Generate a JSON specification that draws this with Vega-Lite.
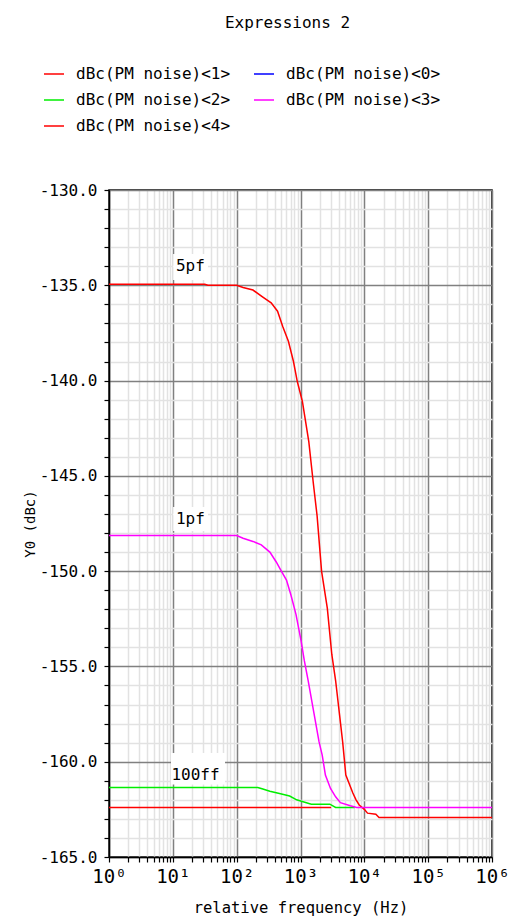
{
  "$schema": "https://vega.github.io/schema/vega-lite/v6.json",
  "width": 383,
  "height": 667,
  "autosize": {"type": "none"},
  "padding": {"left": 109, "top": 190, "right": 20, "bottom": 62},
  "background": "white",
  "title": {
    "text": "Expressions 2",
    "font": "DejaVu Sans Mono",
    "fontSize": 16,
    "fontWeight": "normal",
    "color": "#000000",
    "anchor": "middle",
    "dx": -13,
    "offset": 32
  },
  "config": {
    "view": {"stroke": "#000000", "strokeWidth": 1.5},
    "axis": {
      "labelFont": "DejaVu Sans Mono",
      "titleFont": "DejaVu Sans Mono",
      "titleFontWeight": "normal",
      "labelColor": "#000000",
      "titleColor": "#000000",
      "domainColor": "#000000",
      "domainWidth": 1.5,
      "tickColor": "#000000",
      "tickWidth": 1.2,
      "gridWidth": 1.5
    },
    "legend": {
      "orient": "none",
      "legendX": -66,
      "legendY": -127,
      "columns": 2,
      "padding": 0,
      "symbolType": "stroke",
      "symbolSize": 400,
      "symbolStrokeWidth": 1.5,
      "labelFont": "DejaVu Sans Mono",
      "labelFontSize": 16,
      "labelColor": "#000000",
      "labelOffset": 11,
      "rowPadding": 7,
      "columnPadding": 20
    }
  },
  "resolve": {"axis": {"x": "independent", "y": "independent"}},
  "layer": [
    {
      "data": {
        "values": [
          {"series": "dBc(PM noise)<1>", "f": 1, "y": -134.95},
          {"series": "dBc(PM noise)<1>", "f": 31.6, "y": -134.95},
          {"series": "dBc(PM noise)<1>", "f": 35.5, "y": -135.0},
          {"series": "dBc(PM noise)<1>", "f": 100, "y": -135.0},
          {"series": "dBc(PM noise)<1>", "f": 126, "y": -135.12},
          {"series": "dBc(PM noise)<1>", "f": 180, "y": -135.25},
          {"series": "dBc(PM noise)<1>", "f": 257, "y": -135.62},
          {"series": "dBc(PM noise)<1>", "f": 347, "y": -135.92},
          {"series": "dBc(PM noise)<1>", "f": 437, "y": -136.36},
          {"series": "dBc(PM noise)<1>", "f": 525, "y": -137.15},
          {"series": "dBc(PM noise)<1>", "f": 646, "y": -137.94},
          {"series": "dBc(PM noise)<1>", "f": 776, "y": -139.0},
          {"series": "dBc(PM noise)<1>", "f": 891, "y": -140.05},
          {"series": "dBc(PM noise)<1>", "f": 1072, "y": -141.1},
          {"series": "dBc(PM noise)<1>", "f": 1349, "y": -143.2},
          {"series": "dBc(PM noise)<1>", "f": 1585, "y": -145.36},
          {"series": "dBc(PM noise)<1>", "f": 1820, "y": -147.1},
          {"series": "dBc(PM noise)<1>", "f": 2138, "y": -150.0},
          {"series": "dBc(PM noise)<1>", "f": 2630, "y": -151.94},
          {"series": "dBc(PM noise)<1>", "f": 3090, "y": -154.36},
          {"series": "dBc(PM noise)<1>", "f": 3548, "y": -155.74},
          {"series": "dBc(PM noise)<1>", "f": 4571, "y": -158.95},
          {"series": "dBc(PM noise)<1>", "f": 5129, "y": -160.7},
          {"series": "dBc(PM noise)<1>", "f": 6607, "y": -161.64},
          {"series": "dBc(PM noise)<1>", "f": 7413, "y": -162.0},
          {"series": "dBc(PM noise)<1>", "f": 8318, "y": -162.27},
          {"series": "dBc(PM noise)<1>", "f": 10000, "y": -162.5},
          {"series": "dBc(PM noise)<1>", "f": 11220, "y": -162.7},
          {"series": "dBc(PM noise)<1>", "f": 15136, "y": -162.76},
          {"series": "dBc(PM noise)<1>", "f": 16982, "y": -162.93},
          {"series": "dBc(PM noise)<1>", "f": 1000000, "y": -162.93},

          {"series": "dBc(PM noise)<4>", "f": 1, "y": -162.4},
          {"series": "dBc(PM noise)<4>", "f": 3020, "y": -162.4},

          {"series": "dBc(PM noise)<2>", "f": 1, "y": -161.35},
          {"series": "dBc(PM noise)<2>", "f": 214, "y": -161.35},
          {"series": "dBc(PM noise)<2>", "f": 257, "y": -161.43},
          {"series": "dBc(PM noise)<2>", "f": 331, "y": -161.55},
          {"series": "dBc(PM noise)<2>", "f": 468, "y": -161.67},
          {"series": "dBc(PM noise)<2>", "f": 676, "y": -161.8},
          {"series": "dBc(PM noise)<2>", "f": 871, "y": -162.0},
          {"series": "dBc(PM noise)<2>", "f": 1096, "y": -162.1},
          {"series": "dBc(PM noise)<2>", "f": 1479, "y": -162.23},
          {"series": "dBc(PM noise)<2>", "f": 2884, "y": -162.23},
          {"series": "dBc(PM noise)<2>", "f": 3548, "y": -162.4},
          {"series": "dBc(PM noise)<2>", "f": 7079, "y": -162.4},

          {"series": "dBc(PM noise)<3>", "f": 1, "y": -148.13},
          {"series": "dBc(PM noise)<3>", "f": 100, "y": -148.13},
          {"series": "dBc(PM noise)<3>", "f": 126, "y": -148.27},
          {"series": "dBc(PM noise)<3>", "f": 180, "y": -148.44},
          {"series": "dBc(PM noise)<3>", "f": 243, "y": -148.62},
          {"series": "dBc(PM noise)<3>", "f": 331, "y": -149.0},
          {"series": "dBc(PM noise)<3>", "f": 417, "y": -149.52},
          {"series": "dBc(PM noise)<3>", "f": 501, "y": -150.0},
          {"series": "dBc(PM noise)<3>", "f": 603, "y": -150.47},
          {"series": "dBc(PM noise)<3>", "f": 708, "y": -151.25},
          {"series": "dBc(PM noise)<3>", "f": 851, "y": -152.28},
          {"series": "dBc(PM noise)<3>", "f": 1023, "y": -153.67},
          {"series": "dBc(PM noise)<3>", "f": 1148, "y": -154.7},
          {"series": "dBc(PM noise)<3>", "f": 1318, "y": -155.74},
          {"series": "dBc(PM noise)<3>", "f": 1950, "y": -158.95},
          {"series": "dBc(PM noise)<3>", "f": 2188, "y": -159.65},
          {"series": "dBc(PM noise)<3>", "f": 2455, "y": -160.7},
          {"series": "dBc(PM noise)<3>", "f": 2951, "y": -161.4},
          {"series": "dBc(PM noise)<3>", "f": 3548, "y": -161.84},
          {"series": "dBc(PM noise)<3>", "f": 4217, "y": -162.15},
          {"series": "dBc(PM noise)<3>", "f": 6026, "y": -162.31},
          {"series": "dBc(PM noise)<3>", "f": 7586, "y": -162.4},
          {"series": "dBc(PM noise)<3>", "f": 1000000, "y": -162.4}
        ]
      },
      "mark": {"type": "line", "strokeWidth": 1.5, "clip": true},
      "encoding": {
        "x": {
          "field": "f",
          "type": "quantitative",
          "scale": {"type": "log", "domain": [1, 1000000], "nice": false},
          "axis": {
            "orient": "bottom",
            "title": "relative frequency (Hz)",
            "titleFontSize": 15.5,
            "titleY": 50,
            "titleBaseline": "middle",
            "values": [1,2,3,4,5,6,7,8,9,10,20,30,40,50,60,70,80,90,100,200,300,400,500,600,700,800,900,1000,2000,3000,4000,5000,6000,7000,8000,9000,10000,20000,30000,40000,50000,60000,70000,80000,90000,100000,200000,300000,400000,500000,600000,700000,800000,900000,1000000],
            "labelExpr": "indexof([1,10,100,1000,10000,100000,1000000], datum.value) >= 0 ? '10' + ['⁰','¹','²','³','⁴','⁵','⁶'][round(log(datum.value) / LN10)] : ''",
            "labelFontSize": 19,
            "labelPadding": 5,
            "labelOverlap": false,
            "labelFlush": false,
            "tickSize": 5,
            "gridColor": {"condition": {"test": "indexof([1,10,100,1000,10000,100000,1000000], datum.value) >= 0", "value": "#808080"}, "value": "#e2e2e2"}
          }
        },
        "y": {
          "field": "y",
          "type": "quantitative",
          "scale": {"domain": [-165, -130], "nice": false, "zero": false},
          "axis": {
            "orient": "left",
            "title": "Y0 (dBc)",
            "titleFontSize": 14,
            "titleX": -79,
            "titleBaseline": "middle",
            "values": [-165,-164,-163,-162,-161,-160,-159,-158,-157,-156,-155,-154,-153,-152,-151,-150,-149,-148,-147,-146,-145,-144,-143,-142,-141,-140,-139,-138,-137,-136,-135,-134,-133,-132,-131,-130],
            "labelExpr": "datum.value % 5 == 0 ? datum.value + '.0' : ''",
            "labelFontSize": 16,
            "labelPadding": 7,
            "labelOverlap": false,
            "labelFlush": false,
            "tickSize": 5,
            "gridColor": {"condition": {"test": "datum.value % 5 == 0", "value": "#808080"}, "value": "#e2e2e2"}
          }
        },
        "color": {
          "field": "series",
          "type": "nominal",
          "scale": {
            "domain": ["dBc(PM noise)<1>", "dBc(PM noise)<2>", "dBc(PM noise)<4>", "dBc(PM noise)<0>", "dBc(PM noise)<3>"],
            "range": ["#ff0000", "#00ee00", "#ff0000", "#0000ff", "#ff00ff"]
          },
          "legend": {"title": null}
        }
      }
    },
    {
      "data": {
        "values": [
          {"f0": 10.1, "f1": 35.6, "y0": -133.36, "y1": -134.72},
          {"f0": 10.1, "f1": 35.6, "y0": -146.63, "y1": -147.89},
          {"f0": 9.36, "f1": 65.7, "y0": -159.54, "y1": -161.2}
        ]
      },
      "mark": {"type": "rect", "color": "#ffffff", "opacity": 1},
      "encoding": {
        "x": {"field": "f0", "type": "quantitative", "axis": null},
        "x2": {"field": "f1"},
        "y": {"field": "y0", "type": "quantitative", "axis": null},
        "y2": {"field": "y1"}
      }
    },
    {
      "data": {
        "values": [
          {"f": 11.2, "y": -134.25, "label": "5pf"},
          {"f": 11.2, "y": -147.52, "label": "1pf"},
          {"f": 9.5, "y": -160.95, "label": "100ff"}
        ]
      },
      "mark": {"type": "text", "align": "left", "baseline": "alphabetic", "font": "DejaVu Sans Mono", "fontSize": 16, "color": "#000000"},
      "encoding": {
        "x": {"field": "f", "type": "quantitative", "axis": null},
        "y": {"field": "y", "type": "quantitative", "axis": null},
        "text": {"field": "label"}
      }
    }
  ]
}
